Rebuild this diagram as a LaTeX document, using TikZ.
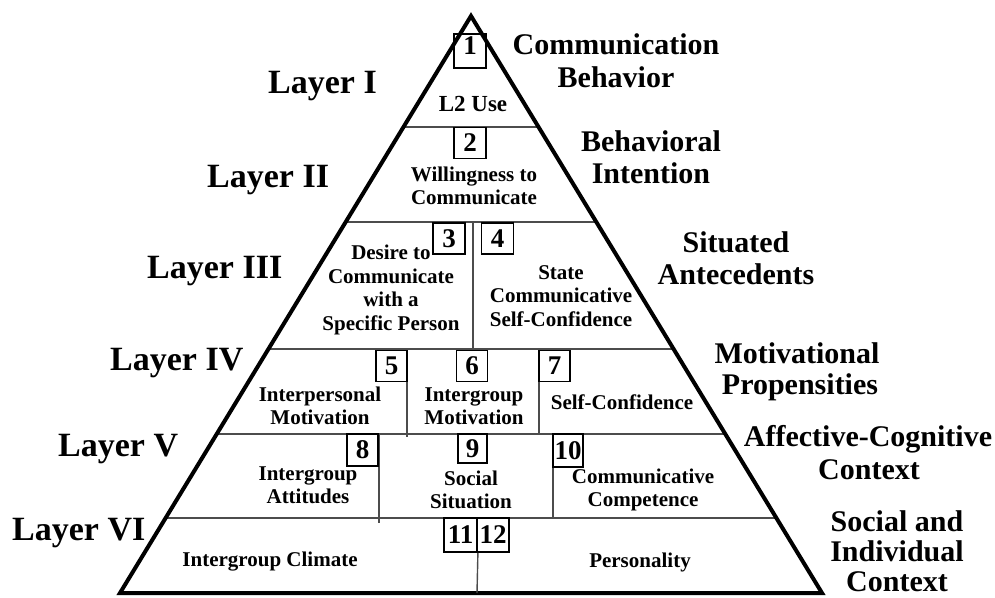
\documentclass[tikz,border=0pt]{standalone}
\usepackage{fontspec}
\setmainfont{Liberation Serif}
\usetikzlibrary{calc}
\begin{document}
\begin{tikzpicture}[x=1pt,y=-1pt,
  outline/.style={line width=4pt, line join=miter},
  divline/.style={line width=1.4pt, draw=black!70},
  numbox/.style={draw, line width=1.8pt, minimum width=31pt, minimum height=31pt, inner sep=0pt, font=\fontsize{27}{27}\selectfont\bfseries},
  intext/.style={align=center, font=\fontsize{21}{23.5}\selectfont\bfseries, inner sep=0pt},
  laylab/.style={anchor=base west, font=\fontsize{34}{34}\selectfont\bfseries, inner sep=0pt},
  catlab/.style={anchor=base, font=\fontsize{30}{30}\selectfont\bfseries, inner sep=0pt},
]
\useasboundingbox (0,0) rectangle (995,597);
\coordinate (A) at (471,16);
\coordinate (BL) at (120,593);
\coordinate (BR) at (822,593);
% horizontal layer lines
\foreach \f/\n in {0.1924/1,0.3570/2,0.5771/3,0.7244/4,0.8700/5}{
  \coordinate (hl\n) at ($(A)!\f!(BL)$);
  \coordinate (hr\n) at ($(A)!\f!(BR)$);
  \draw[divline] (hl\n) -- (hr\n);
}
% vertical dividers
\draw[divline] (473,222) -- (473,349);
\draw[divline] (407,349) -- (407,437);
\draw[divline] (539,349) -- (539,434);
\draw[divline] (379,434) -- (379,523);
\draw[divline] (553,434) -- (553,518);
% outline
\draw[outline] (A) -- (BL) -- (BR) -- cycle;
% number boxes
\node[numbox, minimum width=32pt, minimum height=34pt, text height=17pt, text depth=10pt] (b1) at (470,51) {1};
\node[numbox, minimum width=32pt] (b2) at (470,143) {2};
\node[numbox, minimum width=32pt] (b3) at (449,238.5) {3};
\node[numbox, minimum width=32pt] (b4) at (497.5,238.5) {4};
\node[numbox] (b5) at (391.5,366) {5};
\node[numbox] (b6) at (472,366) {6};
\node[numbox] (b7) at (554.5,366) {7};
\node[numbox, minimum height=32pt] (b8) at (362.5,450) {8};
\node[numbox, minimum width=29pt, minimum height=29pt] (b9) at (472.5,448.5) {9};
\node[numbox, minimum width=30pt, minimum height=33pt] (b10) at (568,450.5) {10};
\node[numbox, minimum width=33pt, minimum height=34pt] (b11) at (460.5,535) {11};
\node[numbox, minimum width=32pt, minimum height=34pt] (b12) at (493,535) {12};
\draw[divline] (b11.south east) -- (477,593);
% inner texts
\node[intext, font=\fontsize{23}{25}\selectfont\bfseries] (t1) at (473,104) {L2 Use};
\node[intext] (t2) at (474,186) {Willingness to\\Communicate};
\node[intext] (t3) at (391,290) {Desire to\\Communicate\\with a\\Specific Person};
\node[intext] (t4) at (561,296) {State\\Communicative\\Self-Confidence};
\node[intext] (t5) at (320,406) {Interpersonal\\Motivation};
\node[intext] (t6) at (474,406) {Intergroup\\Motivation};
\node[intext] (t7) at (622,402) {Self-Confidence};
\node[intext] (t8) at (308,485) {Intergroup\\Attitudes};
\node[intext] (t9) at (471,490) {Social\\Situation};
\node[intext] (t10) at (643,490) {Communicative\\Competence};
\node[intext] (t11) at (270,562) {Intergroup Climate};
\node[intext] (t12) at (640,562) {Personality};
% layer labels
\node[laylab] (L1) at (268,93) {Layer I};
\node[laylab] (L2) at (207,187) {Layer II};
\node[laylab] (L3) at (147,278) {Layer III};
\node[laylab] (L4) at (110,370) {Layer IV};
\node[laylab] (L5) at (58,456) {Layer V};
\node[laylab] (L6) at (12,540) {Layer VI};
% category labels
\node[catlab] (c1a) at (616,54) {Communication};
\node[catlab] (c1b) at (616,87) {Behavior};
\node[catlab] (c2a) at (651,151) {Behavioral};
\node[catlab] (c2b) at (651,183) {Intention};
\node[catlab] (c3a) at (736,252) {Situated};
\node[catlab] (c3b) at (736,284) {Antecedents};
\node[catlab] (c4a) at (797,363) {Motivational};
\node[catlab] (c4b) at (800,394) {Propensities};
\node[catlab] (c5a) at (868,446) {Affective-Cognitive};
\node[catlab] (c5b) at (869,479) {Context};
\node[catlab] (c6a) at (897,531) {Social and};
\node[catlab] (c6b) at (897,561) {Individual};
\node[catlab] (c6c) at (897,591) {Context};
\end{tikzpicture}
\end{document}
